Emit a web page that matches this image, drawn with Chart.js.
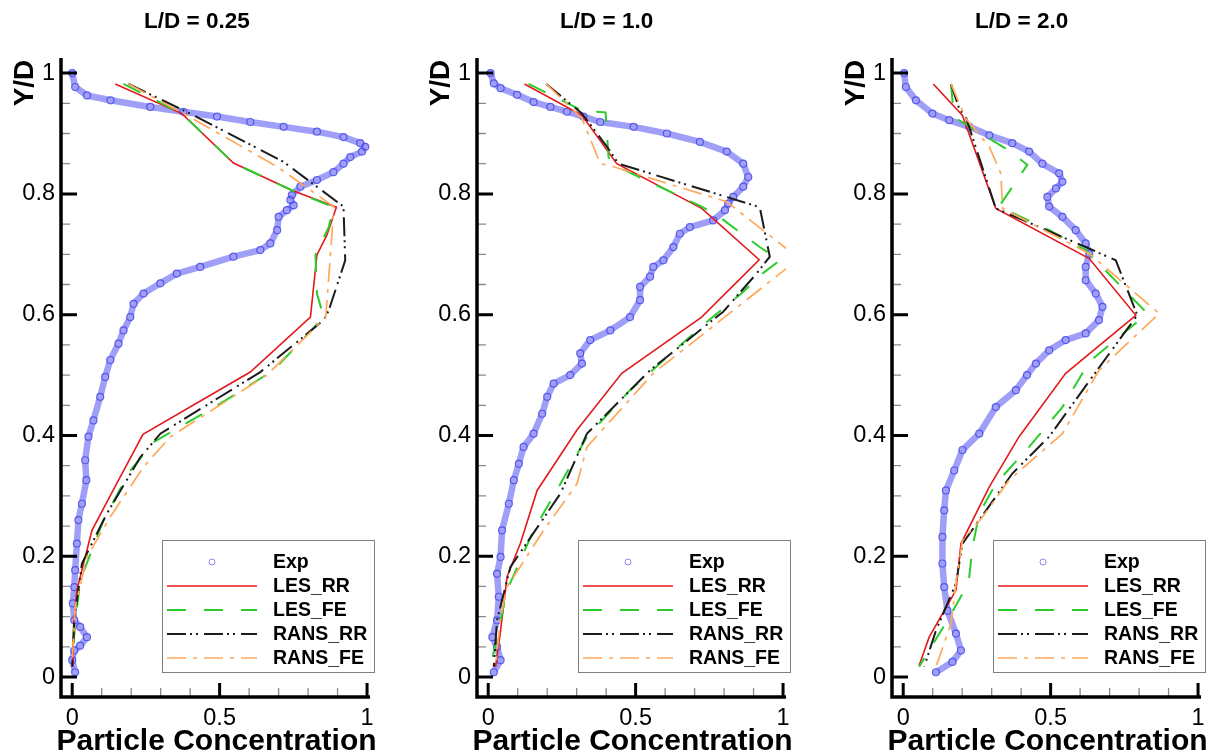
<!DOCTYPE html>
<html>
<head>
<meta charset="utf-8">
<script src="https://cdn.jsdelivr.net/npm/chart.js@4"></script>
<style>
html, body { margin: 0; padding: 0; background: #fff; overflow: hidden; }
#wrap { position: relative; width: 1212px; height: 756px; }
canvas { position: absolute; top: 0; }
</style>
</head>
<body>
<div id="wrap">
  <canvas id="p0" width="395" height="756" style="left:0px"></canvas>
  <canvas id="p1" width="395" height="756" style="left:416px"></canvas>
  <canvas id="p2" width="381" height="756" style="left:831px"></canvas>
</div>
<script>
'use strict';

// ── axis ticks ─────────────────────────────────────────────
const X_TICKS = [0, 0.5, 1];
const X_MINOR = [0.1, 0.2, 0.3, 0.4, 0.6, 0.7, 0.8, 0.9];
const Y_TICKS = [0, 0.2, 0.4, 0.6, 0.8, 1];
const Y_MINOR = [0.05, 0.1, 0.15, 0.25, 0.3, 0.35, 0.45, 0.5, 0.55, 0.65, 0.7, 0.75, 0.85, 0.9, 0.95];

const TITLES = ['L/D = 0.25', 'L/D = 1.0', 'L/D = 2.0'];
const LABELS = ['Exp', 'LES_RR', 'LES_FE', 'RANS_RR', 'RANS_FE'];

// ── L/D = 0.25 ([concentration, Y/D]) ──────────────────────
const EXP_025 = [[0.000,1.000],[0.010,0.977],[0.050,0.963],[0.130,0.955],[0.265,0.944],[0.377,0.936],[0.491,0.928],[0.604,0.919],[0.717,0.911],[0.830,0.903],[0.920,0.894],[0.977,0.884],[0.994,0.878],[0.983,0.870],[0.943,0.861],[0.920,0.850],[0.886,0.836],[0.830,0.823],[0.774,0.812],[0.745,0.798],[0.740,0.790],[0.751,0.781],[0.728,0.773],[0.700,0.762],[0.695,0.740],[0.672,0.718],[0.638,0.707],[0.547,0.696],[0.434,0.679],[0.355,0.668],[0.299,0.652],[0.242,0.635],[0.208,0.618],[0.197,0.596],[0.174,0.574],[0.157,0.552],[0.129,0.525],[0.112,0.497],[0.095,0.464],[0.072,0.425],[0.055,0.398],[0.044,0.359],[0.048,0.326],[0.033,0.287],[0.021,0.260],[0.016,0.221],[0.010,0.177],[0.007,0.149],[0.002,0.122],[0.007,0.094],[0.027,0.083],[0.050,0.066],[0.027,0.052],[0.007,0.044],[0.000,0.028],[0.010,0.008]];
const LES_RR_025 = [[0.146,0.982],[0.372,0.933],[0.547,0.851],[0.745,0.806],[0.896,0.778],[0.864,0.732],[0.830,0.699],[0.808,0.596],[0.604,0.505],[0.240,0.402],[0.135,0.306],[0.067,0.243],[0.016,0.144],[0.005,0.088],[0.002,0.017]];
const LES_FE_025 = [[0.174,0.982],[0.372,0.933],[0.547,0.851],[0.745,0.806],[0.887,0.778],[0.870,0.745],[0.825,0.699],[0.830,0.635],[0.853,0.596],[0.683,0.508],[0.520,0.458],[0.276,0.389],[0.197,0.342],[0.106,0.260],[0.027,0.160],[0.010,0.088],[0.000,0.023]];
const RANS_RR_025 = [[0.191,0.982],[0.400,0.933],[0.717,0.853],[0.920,0.779],[0.926,0.690],[0.870,0.607],[0.853,0.591],[0.638,0.505],[0.299,0.403],[0.231,0.364],[0.118,0.271],[0.033,0.188],[0.007,0.094],[0.000,0.017]];
const RANS_FE_025 = [[0.191,0.982],[0.389,0.930],[0.695,0.845],[0.887,0.779],[0.881,0.734],[0.860,0.596],[0.660,0.500],[0.333,0.398],[0.242,0.348],[0.129,0.265],[0.050,0.199],[0.010,0.116],[0.000,0.023]];

// ── L/D = 1.0 ──────────────────────────────────────────────
const EXP_10 = [[0.008,1.000],[0.019,0.983],[0.042,0.975],[0.098,0.964],[0.154,0.952],[0.211,0.944],[0.267,0.936],[0.323,0.928],[0.380,0.919],[0.493,0.911],[0.606,0.900],[0.718,0.886],[0.809,0.870],[0.865,0.850],[0.882,0.828],[0.865,0.812],[0.831,0.795],[0.814,0.784],[0.803,0.773],[0.763,0.756],[0.684,0.745],[0.650,0.734],[0.628,0.712],[0.594,0.690],[0.560,0.679],[0.549,0.663],[0.515,0.646],[0.515,0.624],[0.481,0.596],[0.414,0.574],[0.346,0.558],[0.312,0.536],[0.318,0.519],[0.278,0.500],[0.222,0.486],[0.200,0.464],[0.183,0.436],[0.154,0.403],[0.120,0.381],[0.104,0.353],[0.087,0.326],[0.070,0.287],[0.047,0.243],[0.042,0.199],[0.030,0.171],[0.036,0.133],[0.030,0.094],[0.014,0.066],[0.030,0.050],[0.042,0.028],[0.019,0.008]];
const LES_RR_10 = [[0.123,0.982],[0.318,0.930],[0.436,0.850],[0.724,0.776],[0.919,0.691],[0.724,0.596],[0.453,0.503],[0.301,0.409],[0.166,0.309],[0.109,0.221],[0.064,0.166],[0.042,0.077],[0.025,0.017]];
const LES_FE_10 = [[0.137,0.982],[0.318,0.938],[0.398,0.935],[0.408,0.861],[0.425,0.848],[0.724,0.779],[0.792,0.759],[0.921,0.712],[0.989,0.690],[0.930,0.668],[0.865,0.638],[0.741,0.588],[0.481,0.475],[0.335,0.398],[0.245,0.320],[0.154,0.243],[0.064,0.144],[0.008,0.017]];
const RANS_RR_10 = [[0.197,0.982],[0.318,0.933],[0.403,0.878],[0.442,0.850],[0.921,0.778],[0.955,0.696],[0.910,0.668],[0.797,0.605],[0.549,0.508],[0.335,0.403],[0.245,0.304],[0.075,0.182],[0.030,0.094],[0.019,0.017]];
const RANS_FE_10 = [[0.197,0.982],[0.318,0.925],[0.380,0.850],[0.425,0.845],[0.809,0.787],[1.054,0.693],[0.831,0.607],[0.560,0.503],[0.335,0.381],[0.301,0.320],[0.188,0.243],[0.064,0.149],[0.042,0.099],[0.025,0.017]];

// ── L/D = 2.0 ──────────────────────────────────────────────
const EXP_20 = [[0.003,1.000],[0.009,0.977],[0.043,0.955],[0.099,0.933],[0.156,0.922],[0.224,0.911],[0.292,0.897],[0.370,0.884],[0.427,0.870],[0.472,0.850],[0.529,0.834],[0.540,0.820],[0.518,0.809],[0.489,0.795],[0.495,0.779],[0.540,0.762],[0.585,0.740],[0.619,0.718],[0.631,0.701],[0.619,0.679],[0.619,0.657],[0.653,0.635],[0.676,0.613],[0.664,0.591],[0.619,0.569],[0.551,0.558],[0.495,0.541],[0.450,0.519],[0.420,0.500],[0.382,0.475],[0.314,0.447],[0.258,0.403],[0.201,0.376],[0.173,0.342],[0.145,0.309],[0.139,0.276],[0.133,0.232],[0.133,0.188],[0.139,0.149],[0.150,0.110],[0.179,0.072],[0.196,0.044],[0.167,0.025],[0.111,0.008]];
const LES_RR_20 = [[0.102,0.982],[0.201,0.930],[0.314,0.776],[0.631,0.693],[0.789,0.599],[0.551,0.503],[0.393,0.398],[0.292,0.315],[0.196,0.221],[0.179,0.144],[0.088,0.066],[0.054,0.019]];
const LES_FE_20 = [[0.162,0.982],[0.168,0.950],[0.179,0.925],[0.365,0.870],[0.421,0.848],[0.325,0.779],[0.495,0.740],[0.619,0.707],[0.828,0.602],[0.631,0.522],[0.540,0.447],[0.427,0.381],[0.314,0.320],[0.258,0.271],[0.235,0.215],[0.224,0.166],[0.201,0.138],[0.156,0.099],[0.054,0.017]];
const RANS_RR_20 = [[0.162,0.982],[0.190,0.941],[0.212,0.928],[0.314,0.776],[0.619,0.712],[0.721,0.690],[0.794,0.599],[0.653,0.505],[0.495,0.398],[0.370,0.337],[0.258,0.260],[0.201,0.221],[0.179,0.155],[0.111,0.077],[0.071,0.017]];
const RANS_FE_20 = [[0.162,0.982],[0.212,0.925],[0.292,0.878],[0.331,0.834],[0.337,0.776],[0.631,0.701],[0.868,0.602],[0.664,0.508],[0.540,0.403],[0.359,0.326],[0.269,0.265],[0.201,0.226],[0.179,0.155],[0.162,0.088],[0.111,0.017]];

const PANEL_DATA = [
    [EXP_025, LES_RR_025, LES_FE_025, RANS_RR_025, RANS_FE_025],
    [EXP_10,  LES_RR_10,  LES_FE_10,  RANS_RR_10,  RANS_FE_10],
    [EXP_20,  LES_RR_20,  LES_FE_20,  RANS_RR_20,  RANS_FE_20],
];

// ── styles ────────────────────────────────────────────────
const FONT = '"Liberation Sans", Arial, Helvetica, sans-serif';
const LINE_STYLES = [
    { color: '#e3191c', width: 1.6, dash: [] },
    { color: '#2ccc2c', width: 2,   dash: [19, 18] },
    { color: '#1c1c1c', width: 2,   dash: [19, 4, 2, 4, 2, 6] },
    { color: '#ffa85a', width: 1.7, dash: [19, 7, 4, 7] },
];
const EXP_POINT = 'rgba(70,70,235,0.85)';
const EXP_BAND  = 'rgba(95,95,242,0.6)';

Chart.defaults.font.family = FONT;
Chart.defaults.color = '#000';

const toXY = arr => arr.map(p => ({ x: p[0], y: p[1] }));

// axes, inward ticks, titles and the framed legend
const framePlugin = {
    id: 'frame',
    afterDatasetsDraw(chart) {
        const { ctx, chartArea: a, scales: { x, y } } = chart;
        ctx.save();
        ctx.lineCap = 'butt';
        ctx.strokeStyle = '#8a8a8a';
        ctx.lineWidth = 1.3;
        ctx.beginPath();
        X_MINOR.forEach(v => { const px = x.getPixelForValue(v); ctx.moveTo(px, a.bottom); ctx.lineTo(px, a.bottom - 9); });
        Y_MINOR.forEach(v => { const py = y.getPixelForValue(v); ctx.moveTo(a.left, py); ctx.lineTo(a.left + 9, py); });
        ctx.stroke();

        ctx.strokeStyle = '#000';
        ctx.lineWidth = 3;
        ctx.beginPath();
        X_TICKS.forEach(v => { const px = x.getPixelForValue(v); ctx.moveTo(px, a.bottom); ctx.lineTo(px, a.bottom - 14); });
        Y_TICKS.forEach(v => { const py = y.getPixelForValue(v); ctx.moveTo(a.left, py); ctx.lineTo(a.left + 16, py); });
        ctx.stroke();

        ctx.lineWidth = 3.5;
        ctx.beginPath();
        ctx.moveTo(a.left, a.top);
        ctx.lineTo(a.left, a.bottom);
        ctx.lineTo(a.right, a.bottom);
        ctx.stroke();
        ctx.restore();
    },
    afterDraw(chart) {
        const { ctx, chartArea: a } = chart;
        const idx = chart.options.plugins.frame.panel;
        ctx.save();
        ctx.fillStyle = '#000';

        ctx.font = 'bold 22.5px ' + FONT;
        ctx.textAlign = 'left';
        ctx.textBaseline = 'middle';
        ctx.fillText(TITLES[idx], a.left + 83, 22);

        ctx.font = 'bold 30px ' + FONT;
        ctx.textAlign = 'center';
        ctx.fillText('Particle Concentration', (a.left + a.right) / 2 + 1, 742);

        ctx.save();
        ctx.translate(a.left - 36, 83);
        ctx.rotate(-Math.PI / 2);
        ctx.font = 'bold 28px ' + FONT;
        ctx.fillText('Y/D', 0, 0);
        ctx.restore();

        // legend
        const bx = a.left + 101, by = 540, bw = 212, bh = 132;
        ctx.fillStyle = '#fff';
        ctx.fillRect(bx, by, bw, bh);
        ctx.strokeStyle = '#808080';
        ctx.lineWidth = 1;
        ctx.strokeRect(bx + 0.5, by + 0.5, bw, bh);
        ctx.font = 'bold 19.5px ' + FONT;
        ctx.textAlign = 'left';
        chart.data.datasets.forEach((ds, i) => {
            const ry = by + 22 + i * 24;
            if (i === 0) {
                ctx.strokeStyle = 'rgba(110,110,240,0.8)';
                ctx.lineWidth = 1;
                ctx.beginPath();
                ctx.arc(bx + 50, ry, 3, 0, Math.PI * 2);
                ctx.stroke();
            } else {
                ctx.strokeStyle = ds.borderColor;
                ctx.lineWidth = ds.borderWidth;
                ctx.setLineDash(ds.borderDash);
                ctx.beginPath();
                ctx.moveTo(bx + 5, ry);
                ctx.lineTo(bx + 95, ry);
                ctx.stroke();
                ctx.setLineDash([]);
            }
            ctx.fillStyle = '#000';
            ctx.fillText(ds.label, bx + 111, ry + 1);
        });
        ctx.restore();
    }
};

PANEL_DATA.forEach((series, idx) => {
    const el = document.getElementById('p' + idx);
    const datasets = [{
        label: LABELS[0],
        data: toXY(series[0]),
        showLine: true,
        borderColor: EXP_BAND,
        borderWidth: 6.5,
        borderJoinStyle: 'round',
        borderCapStyle: 'round',
        pointRadius: 3.5,
        pointBorderWidth: 1.2,
        pointBorderColor: EXP_POINT,
        pointBackgroundColor: 'rgba(0,0,0,0)',
        order: 5,
    }];
    series.slice(1).forEach((pts, i) => {
        const st = LINE_STYLES[i];
        datasets.push({
            label: LABELS[i + 1],
            data: toXY(pts),
            showLine: true,
            borderColor: st.color,
            borderWidth: st.width,
            borderDash: st.dash,
            pointRadius: 0,
            order: 4 - i,
        });
    });

    new Chart(el, {
        type: 'scatter',
        data: { datasets },
        options: {
            responsive: false,
            animation: false,
            devicePixelRatio: 1,
            layout: { padding: { left: 0, top: 58, right: el.width - 370, bottom: 0 } },
            plugins: {
                legend: { display: false },
                tooltip: { enabled: false },
                frame: { panel: idx },
            },
            scales: {
                x: {
                    type: 'linear',
                    min: -0.038,
                    max: 1.01,
                    grid: { display: false, drawTicks: false },
                    border: { display: false },
                    afterBuildTicks: s => { s.ticks = X_TICKS.map(v => ({ value: v })); },
                    afterFit: s => { s.height = 59; },
                    ticks: { padding: 7, font: { size: 23.5 }, color: '#000', maxRotation: 0, callback: v => String(v) },
                },
                y: {
                    type: 'linear',
                    min: -0.033,
                    max: 1.025,
                    grid: { display: false, drawTicks: false },
                    border: { display: false },
                    afterBuildTicks: s => { s.ticks = Y_TICKS.map(v => ({ value: v })); },
                    afterFit: s => { s.width = 61; },
                    ticks: { padding: 6, font: { size: 23.5 }, color: '#000', callback: v => String(+v.toFixed(2)) },
                },
            },
        },
        plugins: [framePlugin],
    });
});
</script>
</body>
</html>
